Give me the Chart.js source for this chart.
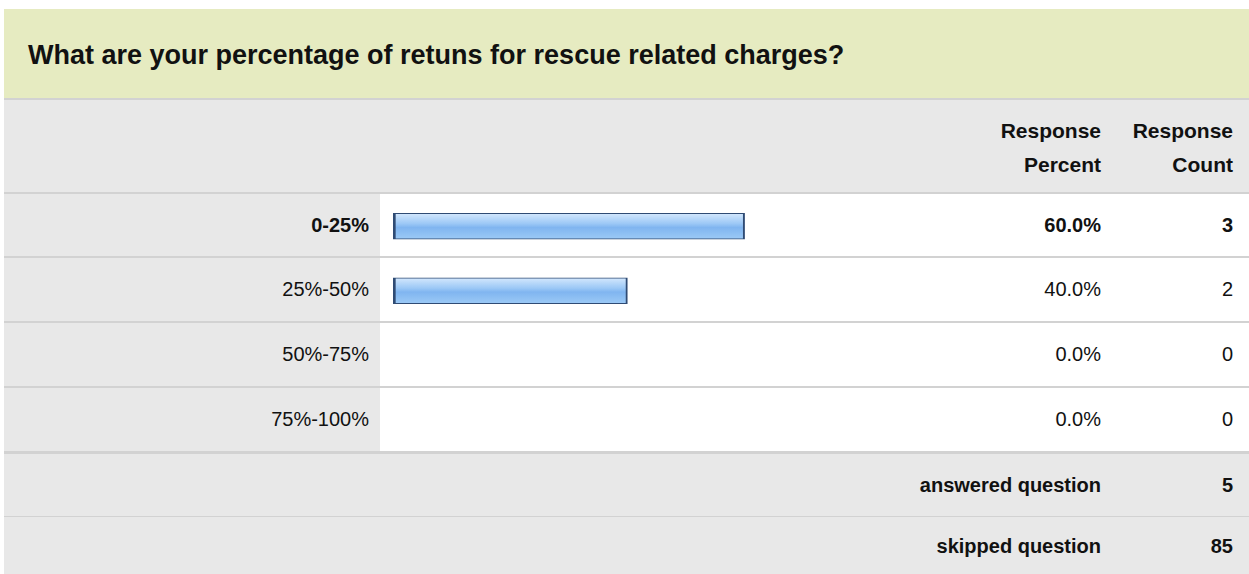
<!DOCTYPE html>
<html>
<head>
<meta charset="utf-8">
<script src="https://cdn.jsdelivr.net/npm/chart.js@4.4.0/dist/chart.umd.min.js"></script>
<style>
  html, body { margin: 0; padding: 0; background: #fff; }
  body { width: 1249px; height: 574px; overflow: hidden; position: relative;
         font-family: "Liberation Sans", Arial, sans-serif; color: #111; }
  #wrap { position: absolute; left: 4px; top: 9px; width: 1245px; }
  .title { height: 89px; background: #e6ebc1; border-bottom: 2px solid #d2d2d2;
           font-size: 27px; font-weight: bold; line-height: 92px; padding-left: 24px; box-sizing: content-box; }
  .row { position: relative; height: 63px; border-bottom: 2px solid #d2d2d2; background: #fff; }
  .row.first { height: 62px; }
  .row.grey { background: #e8e8e8; }
  .head { height: 92px; background: #e8e8e8; }
  .label { position: absolute; left: 0; width: 376px; height: 100%; background: #e8e8e8; }
  .cell { position: absolute; top: 0; height: 100%; display: flex; align-items: center;
          justify-content: flex-end; font-size: 20px; text-align: right; }
  .lab { right: 880px; }
  .pct { right: 148px; }
  .cnt { right: 16px; }
  .bold { font-weight: bold; }
  .head .cell { font-size: 21px; font-weight: bold; line-height: 34px; padding-top: 4px; box-sizing: border-box; }
  .foot .cell { font-weight: bold; }
  #chartBox { position: absolute; left: 393px; top: 194px; width: 586px; height: 258px; }
</style>
</head>
<body>
<div id="wrap">
  <div class="title">What are your percentage of retuns for rescue related charges?</div>
  <div id="rows"></div>
</div>
<div id="chartBox"><canvas id="barChart"></canvas></div>
<script>
const categories = ['0-25%', '25%-50%', '50%-75%', '75%-100%'];
const responsePercent = [60.0, 40.0, 0.0, 0.0];
const responseCount = [3, 2, 0, 0];
const answeredCount = 5;
const skippedCount = 85;

document.addEventListener('DOMContentLoaded', function () {
    const rows = document.getElementById('rows');
    const maxPct = Math.max(...responsePercent);

    let html = '<div class="row head">' +
        '<div class="cell pct">Response<br>Percent</div>' +
        '<div class="cell cnt">Response<br>Count</div></div>';

    categories.forEach(function (cat, i) {
        const b = responsePercent[i] === maxPct ? ' bold' : '';
        const first = i === 0 ? ' first' : '';
        const last = i === categories.length - 1 ? ' style="border-bottom-width:3px"' : '';
        html += '<div class="row' + first + '"' + last + '><div class="label"></div>' +
            '<div class="cell lab' + b + '">' + cat + '</div>' +
            '<div class="cell pct' + b + '">' + responsePercent[i].toFixed(1) + '%</div>' +
            '<div class="cell cnt' + b + '">' + responseCount[i] + '</div></div>';
    });

    html += '<div class="row grey foot" style="height:62px;border-bottom:1px solid #d2d2d2">' +
        '<div class="cell pct">answered question</div>' +
        '<div class="cell cnt">' + answeredCount + '</div></div>';
    html += '<div class="row grey foot" style="border-bottom:none;height:58px">' +
        '<div class="cell pct">skipped question</div>' +
        '<div class="cell cnt">' + skippedCount + '</div></div>';
    rows.innerHTML = html;

    const ctx = document.getElementById('barChart').getContext('2d');

    new Chart(ctx, {
        type: 'bar',
        data: {
            labels: categories,
            datasets: [{
                data: responsePercent,
                backgroundColor: function (context) {
                    const chart = context.chart;
                    if (!chart.chartArea || !chart.scales.y) return '#8ebff3';
                    const yc = chart.scales.y.getPixelForValue(context.dataIndex);
                    const g = chart.ctx.createLinearGradient(0, yc - 13, 0, yc + 13);
                    g.addColorStop(0, '#d4e8fd');
                    g.addColorStop(0.4, '#9cc8f6');
                    g.addColorStop(0.55, '#80b5f0');
                    g.addColorStop(1, '#9ccaf6');
                    return g;
                },
                borderColor: '#2f4b74',
                borderWidth: { top: 1, bottom: 1, left: 3, right: 2 },
                borderSkipped: false,
                barThickness: 26
            }]
        },
        options: {
            indexAxis: 'y',
            responsive: true,
            maintainAspectRatio: false,
            animation: false,
            layout: { padding: 0 },
            scales: {
                x: { display: false, min: 0, max: 100 },
                y: { display: false }
            },
            plugins: {
                legend: { display: false },
                tooltip: { enabled: false }
            }
        }
    });
});
</script>
</body>
</html>
